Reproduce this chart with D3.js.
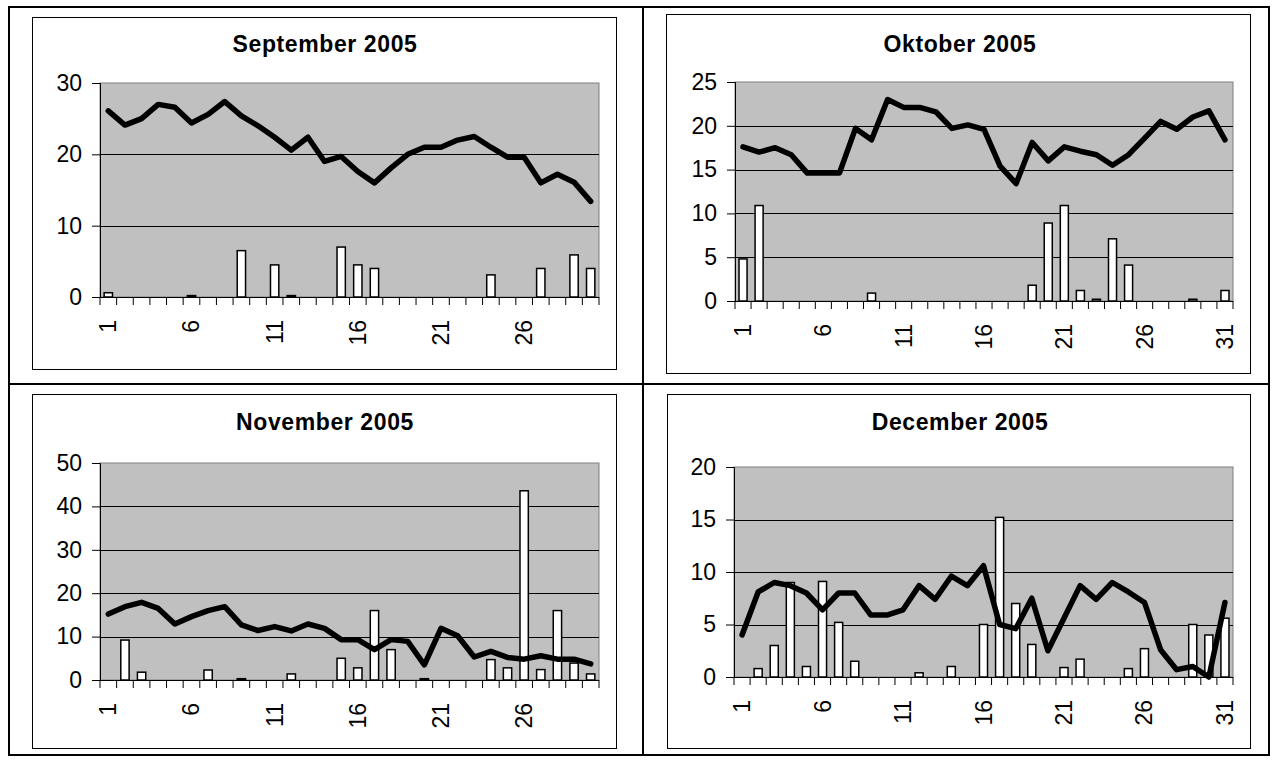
<!DOCTYPE html>
<html>
<head>
<meta charset="utf-8">
<script src="https://cdn.jsdelivr.net/npm/d3@7"></script>
<style>
    body { margin: 0; background: #fff; }
    text { font-family: Arial, "Liberation Sans", sans-serif; fill: #000; }
</style>
</head>
<body>
<svg id="vis"></svg>
<script>
// daily mean temperature (line) and rainfall (bars)
var sepTemp = [26.1, 24.1, 25.0, 27.0, 26.6, 24.4, 25.6, 27.4, 25.4, 24.0, 22.4, 20.6, 22.4, 19.0, 19.7,
    17.6, 16.0, 18.1, 20.0, 21.0, 21.0, 22.0, 22.5, 21.0, 19.6, 19.6, 16.0, 17.2, 16.1, 13.4];
var sepRain = [0.6, 0, 0, 0, 0, 0.2, 0, 0, 6.5, 0, 4.5, 0.2, 0, 0, 7.0,
    4.5, 4.0, 0, 0, 0, 0, 0, 0, 3.1, 0, 0, 4.0, 0, 5.9, 4.0];

var octTemp = [17.6, 17.0, 17.5, 16.7, 14.6, 14.6, 14.6, 19.7, 18.4, 23.0, 22.1, 22.1, 21.6, 19.7, 20.1, 19.6,
    15.4, 13.4, 18.1, 16.0, 17.6, 17.1, 16.7, 15.5, 16.7, 18.6, 20.5, 19.6, 21.0, 21.7, 18.4];
var octRain = [4.8, 10.9, 0, 0, 0, 0, 0, 0, 0.9, 0, 0, 0, 0, 0, 0, 0,
    0, 0, 1.8, 8.9, 10.9, 1.2, 0.2, 7.1, 4.1, 0, 0, 0, 0.2, 0, 1.2];

var novTemp = [15.2, 16.9, 17.9, 16.5, 12.9, 14.6, 16.0, 16.9, 12.7, 11.4, 12.3, 11.3, 12.9, 11.9, 9.3,
    9.3, 7.0, 9.3, 8.9, 3.5, 11.9, 10.2, 5.3, 6.6, 5.2, 4.8, 5.6, 4.8, 4.8, 3.7];
var novRain = [0, 9.2, 1.8, 0, 0, 0, 2.3, 0, 0.3, 0, 0, 1.4, 0, 0, 5.0,
    2.8, 16.0, 7.0, 0, 0.3, 0, 0, 0, 4.7, 2.8, 43.6, 2.4, 16.0, 3.9, 1.4];

var decTemp = [4.0, 8.1, 9.0, 8.7, 8.0, 6.4, 8.0, 8.0, 5.9, 5.9, 6.4, 8.7, 7.4, 9.6, 8.7, 10.6,
    5.0, 4.6, 7.5, 2.5, 5.6, 8.7, 7.4, 9.0, 8.1, 7.1, 2.6, 0.7, 1.0, 0, 7.1];
var decRain = [0, 0.8, 3.0, 9.0, 1.0, 9.1, 5.2, 1.5, 0, 0, 0, 0.4, 0, 1.0, 0, 5.0,
    15.2, 7.0, 3.1, 0, 0.9, 1.7, 0, 0, 0.8, 2.7, 0, 0, 5.0, 4.0, 5.6];

var titles = ["September 2005", "Oktober 2005", "November 2005", "December 2005"];
var yTicks = [[0, 10, 20, 30], [0, 5, 10, 15, 20, 25], [0, 10, 20, 30, 40, 50], [0, 5, 10, 15, 20]];
var dayLabels = [1, 6, 11, 16, 21, 26, 31];

// boxes: chart frame, title baseline, plot area
var layout = [
    { box: [32, 17, 616, 369], titleX: 325, titleY: 52, plot: [100, 83, 599, 297] },
    { box: [666, 14, 1250, 373], titleX: 960, titleY: 52, plot: [735, 82, 1233, 301] },
    { box: [32, 394, 616, 748], titleX: 325, titleY: 430, plot: [100, 463, 599, 680] },
    { box: [667, 394, 1250, 748], titleX: 960, titleY: 430, plot: [734, 467, 1233, 677] }
];

var series = [[sepTemp, sepRain], [octTemp, octRain], [novTemp, novRain], [decTemp, decRain]];

var svg = d3.select("#vis").attr("width", 1278).attr("height", 760);

// outer table
svg.append("rect").attr("x", 9).attr("y", 7).attr("width", 1260).attr("height", 748)
    .attr("fill", "none").attr("stroke", "#000").attr("stroke-width", 2);
svg.append("line").attr("x1", 643).attr("x2", 643).attr("y1", 7).attr("y2", 755)
    .attr("stroke", "#000").attr("stroke-width", 2);
svg.append("line").attr("x1", 9).attr("x2", 1269).attr("y1", 384).attr("y2", 384)
    .attr("stroke", "#000").attr("stroke-width", 2);

series.forEach(function(s, i) {
    drawChart(s[0], s[1], titles[i], yTicks[i], layout[i]);
});

function drawChart(temp, rain, title, ticks, L) {
    var g = svg.append("g");
    var days = d3.range(1, temp.length + 1);
    var p = L.plot;

    g.append("rect")
        .attr("x", L.box[0] + 0.5).attr("y", L.box[1] + 0.5)
        .attr("width", L.box[2] - L.box[0]).attr("height", L.box[3] - L.box[1])
        .attr("fill", "#fff").attr("stroke", "#000").attr("stroke-width", 1);

    g.append("text")
        .attr("x", L.titleX).attr("y", L.titleY)
        .attr("text-anchor", "middle")
        .attr("font-size", 23).attr("font-weight", "bold")
        .attr("letter-spacing", 0.6)
        .text(title);

    var x = d3.scaleBand().domain(days).range([p[0], p[2]]);
    var y = d3.scaleLinear().domain([0, d3.max(ticks)]).range([p[3], p[1]]);

    // plot area
    g.append("rect")
        .attr("x", p[0]).attr("y", p[1])
        .attr("width", p[2] - p[0]).attr("height", p[3] - p[1])
        .attr("fill", "#c0c0c0").attr("stroke", "#808080").attr("stroke-width", 1);

    // gridlines
    g.selectAll(".grid")
        .data(ticks.slice(1, -1))
        .enter().append("line")
        .attr("x1", p[0]).attr("x2", p[2])
        .attr("y1", function(d) { return Math.round(y(d)) + 0.5; })
        .attr("y2", function(d) { return Math.round(y(d)) + 0.5; })
        .attr("stroke", "#000").attr("stroke-width", 1);

    // rain bars
    var bw = x.bandwidth() * 0.5;
    g.selectAll(".bar")
        .data(rain.map(function(v, k) { return { day: k + 1, v: v }; }).filter(function(d) { return d.v > 0; }))
        .enter().append("rect")
        .attr("x", function(d) { return x(d.day) + (x.bandwidth() - bw) / 2; })
        .attr("y", function(d) { return y(d.v); })
        .attr("width", bw)
        .attr("height", function(d) { return Math.max(y(0) - y(d.v), 1); })
        .attr("fill", "#fff").attr("stroke", "#000").attr("stroke-width", 1.5);

    // temperature line
    var line = d3.line()
        .x(function(d, k) { return x(k + 1) + x.bandwidth() / 2; })
        .y(function(d) { return y(d); });
    g.append("path")
        .attr("d", line(temp))
        .attr("fill", "none").attr("stroke", "#000").attr("stroke-width", 5.5)
        .attr("stroke-linejoin", "round").attr("stroke-linecap", "round");

    // y axis
    var yAxis = g.append("g").attr("transform", "translate(" + p[0] + ",0)")
        .call(d3.axisLeft(y).tickValues(ticks).tickSize(8).tickPadding(10).tickFormat(d3.format("d")));
    yAxis.select(".domain").attr("stroke", "#000");
    yAxis.selectAll("text").attr("font-size", 23).attr("font-family", "Arial, 'Liberation Sans', sans-serif");

    // x axis: ticks at category boundaries
    var bounds = d3.range(0, days.length + 1).map(function(k) { return p[0] + k * x.step(); });
    g.append("line").attr("x1", p[0]).attr("x2", p[2]).attr("y1", p[3] + 0.5).attr("y2", p[3] + 0.5)
        .attr("stroke", "#000");
    g.selectAll(".xt")
        .data(bounds)
        .enter().append("line")
        .attr("x1", function(d) { return d; }).attr("x2", function(d) { return d; })
        .attr("y1", p[3]).attr("y2", p[3] + 8)
        .attr("stroke", "#000");

    g.selectAll(".xl")
        .data(dayLabels.filter(function(d) { return d <= days.length; }))
        .enter().append("text")
        .attr("transform", function(d) {
            return "translate(" + (x(d) + x.bandwidth() / 2) + "," + (p[3] + 23) + ") rotate(-90)";
        })
        .attr("text-anchor", "end")
        .attr("dominant-baseline", "central")
        .attr("font-size", 23)
        .text(function(d) { return d; });
}
</script>
</body>
</html>
